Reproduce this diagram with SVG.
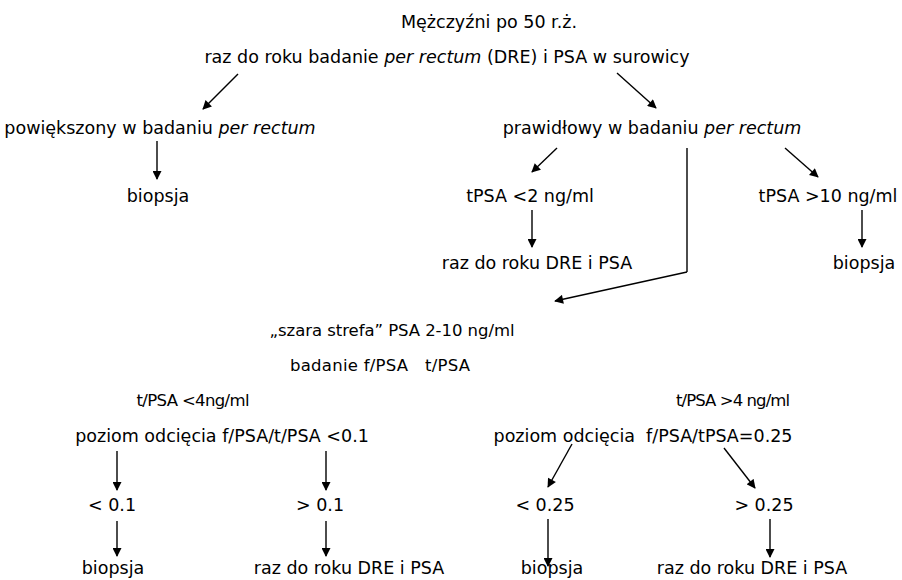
<svg xmlns="http://www.w3.org/2000/svg" width="902" height="580" viewBox="0 0 902 580">
  <style>
    text { font-family: "DejaVu Sans", "Liberation Sans", sans-serif; font-size: 17.5px; fill: #000; text-anchor: middle; dominant-baseline: central; }
    .it { font-style: italic; }
    .nar { font-size: 16.5px; }
    .conn { stroke: #000; stroke-width: 1.4; fill: none; marker-end: url(#arrow); }
    .plain { stroke: #000; stroke-width: 1.4; fill: none; }
  </style>
  <defs>
    <marker id="arrow" viewBox="0 0 10 10" refX="9" refY="5" markerWidth="10" markerHeight="9" markerUnits="userSpaceOnUse" orient="auto">
      <path d="M0,0 L10,5 L0,10 z" fill="#000"/>
    </marker>
  </defs>
  <rect width="902" height="580" fill="#fff"/>

  <g id="connectors">
    <line class="conn" x1="238" y1="74" x2="203" y2="109"/>
    <line class="conn" x1="617" y1="73" x2="656" y2="108"/>
    <line class="conn" x1="157" y1="141" x2="157" y2="179"/>
    <line class="conn" x1="557" y1="148" x2="532" y2="172"/>
    <line class="conn" x1="785" y1="148" x2="818" y2="177"/>
    <polyline class="plain" points="687,148 687,272"/>
    <line class="conn" x1="687" y1="272" x2="555" y2="301"/>
    <line class="conn" x1="532" y1="210" x2="532" y2="247"/>
    <line class="conn" x1="862" y1="210" x2="862" y2="247"/>
    <line class="conn" x1="117" y1="451" x2="117" y2="490"/>
    <line class="conn" x1="326" y1="451" x2="326" y2="490"/>
    <line class="conn" x1="117" y1="521" x2="117" y2="556"/>
    <line class="conn" x1="326" y1="521" x2="326" y2="556"/>
    <line class="conn" x1="572" y1="444" x2="548" y2="487"/>
    <line class="conn" x1="724" y1="448" x2="755" y2="488"/>
    <line class="conn" x1="548" y1="519" x2="548" y2="566"/>
    <line class="conn" x1="770" y1="519" x2="770" y2="557"/>
  </g>

  <g id="n-men"><text x="489" y="22">Mężczyźni po 50 r.ż.</text></g>
  <g id="n-screen"><text x="447" y="57">raz do roku badanie <tspan class="it">per rectum</tspan> (DRE) i PSA w surowicy</text></g>
  <g id="n-enlarged"><text x="160" y="128">powiększony w badaniu <tspan class="it">per rectum</tspan></text></g>
  <g id="n-normal"><text x="652" y="128">prawidłowy w badaniu <tspan class="it">per rectum</tspan></text></g>
  <g id="n-biopsy1"><text x="158" y="196">biopsja</text></g>
  <g id="n-tpsa-low"><text x="530" y="196">tPSA &lt;2 ng/ml</text></g>
  <g id="n-tpsa-high"><text x="828" y="196">tPSA &gt;10 ng/ml</text></g>
  <g id="n-yearly1"><text x="537" y="263">raz do roku DRE i PSA</text></g>
  <g id="n-biopsy2"><text x="864" y="263">biopsja</text></g>
  <g id="n-grey"><text class="nar" x="392" y="330" textLength="245">„szara strefa” PSA 2-10 ng/ml</text></g>
  <g id="n-fpsa"><text class="nar" x="380" y="365" textLength="180" xml:space="preserve">badanie f/PSA   t/PSA</text></g>
  <g id="n-lt4"><text class="nar" x="193" y="400" textLength="113">t/PSA &lt;4ng/ml</text></g>
  <g id="n-gt4"><text class="nar" x="733" y="400" textLength="114">t/PSA &gt;4 ng/ml</text></g>
  <g id="n-cut01"><text x="222" y="436">poziom odcięcia f/PSA/t/PSA &lt;0.1</text></g>
  <g id="n-cut025"><text x="643" y="436" xml:space="preserve">poziom odcięcia  f/PSA/tPSA=0.25</text></g>
  <g id="n-lt01"><text x="112" y="505">&lt; 0.1</text></g>
  <g id="n-gt01"><text x="320" y="505">&gt; 0.1</text></g>
  <g id="n-lt025"><text x="545" y="505">&lt; 0.25</text></g>
  <g id="n-gt025"><text x="764" y="505">&gt; 0.25</text></g>
  <g id="n-biopsy3"><text x="113" y="568">biopsja</text></g>
  <g id="n-yearly2"><text x="349" y="568">raz do roku DRE i PSA</text></g>
  <g id="n-biopsy4"><text x="552" y="568">biopsja</text></g>
  <g id="n-yearly3"><text x="752" y="568">raz do roku DRE i PSA</text></g>
</svg>
